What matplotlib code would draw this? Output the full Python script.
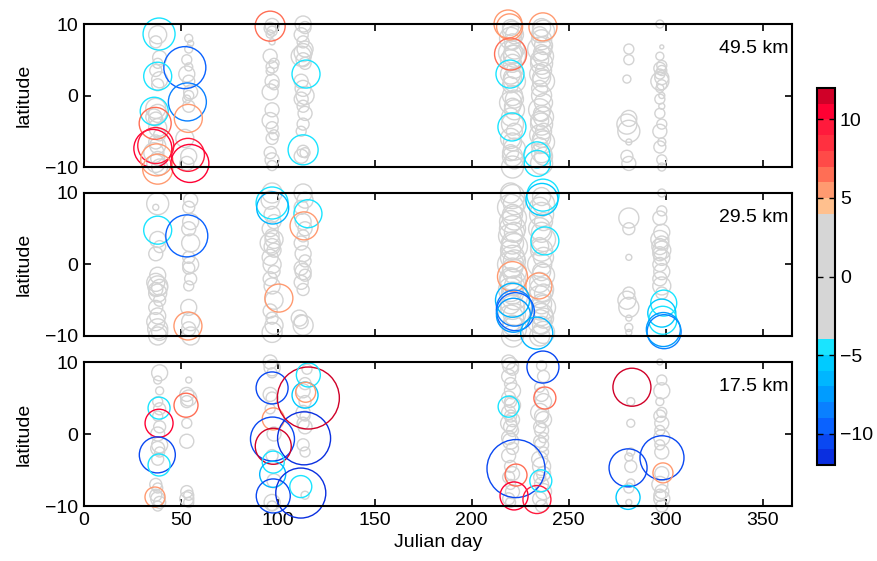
import matplotlib
matplotlib.use("Agg")
import matplotlib.pyplot as plt
import numpy as np
from matplotlib.colors import ListedColormap, BoundaryNorm

plt.rcParams['font.family'] = ['Liberation Sans', 'DejaVu Sans']
plt.rcParams['font.size'] = 14

# ---- data -----------------------------------------------------------------
altitudes = ['49.5 km', '29.5 km', '17.5 km']

# gray (small anomaly) circles: day, latitude, diameter (px)
p1_gray_day = [38, 37, 39, 38, 37, 39, 38, 37, 38, 36, 37, 38, 39, 37, 38, 36, 38, 37, 39,
               54, 55, 54, 53, 54, 53, 54, 55, 54, 53, 54, 52, 54, 53,
               97, 96, 97, 96, 97, 96, 98, 97, 96, 97, 98, 96, 97, 96, 97, 98, 97, 96, 97, 97,
               113, 114, 112, 113, 114, 113, 112, 113, 114, 112, 113, 114, 112, 113, 114, 113, 112, 113, 114, 112,
               220, 221, 222, 220, 221, 222, 220, 221, 222, 220, 221, 222, 220, 221, 222, 220, 221, 222,
               220, 221, 222, 220, 221, 222, 220, 221, 222, 220, 221, 222, 221,
               236, 237, 235, 236, 237, 235, 236, 237, 235, 236, 237, 235, 236, 237, 235, 236, 237, 235,
               236, 237, 235, 236, 237, 235, 236, 237, 235, 236, 237, 236,
               281, 281, 280, 281, 280, 281, 281, 280, 281,
               297, 298, 297, 298, 297, 298, 297, 298, 297, 298, 297, 298, 297, 298, 297, 298, 297,
               298, 297, 298, 298]
p1_gray_lat = [8.5, 7.5, 5.3, 4.5, 3.5, 2.2, 1.5, -1.8, -2.5, -3.0, -3.3, -4.5, -5.5, -6.5, -7.0, -8.0, -8.8, -9.5, -10.0,
               8.0, 7.3, 6.5, 5.0, 4.0, 3.0, 2.0, 0.5, 0.0, -0.5, -1.5, -6.0, -8.5, -9.5,
               9.8, 9.4, 9.0, 8.6, 7.5, 5.5, 4.5, 4.0, 3.4, 2.0, 1.5, 0.5, -2.0, -3.5, -4.5, -5.5, -6.0, -8.0, -9.0, -9.8,
               10.0, 9.5, 8.5, 7.5, 6.5, 6.0, 5.5, 5.0, 4.5, 2.0, 1.0, 0.0, -0.5, -1.5, -2.5, -4.0, -5.0, -7.8, -8.0, -8.5,
               9.5, 9.0, 8.5, 8.0, 7.5, 6.5, 6.0, 5.8, 5.5, 5.0, 4.5, 3.5, 3.0, 2.5, 2.0, 1.5, 0.0, -0.5,
               -1.0, -1.5, -2.0, -3.0, -4.0, -5.0, -6.0, -6.5, -7.5, -8.0, -8.5, -9.0, -10.0,
               9.5, 9.0, 8.5, 7.8, 7.0, 6.5, 6.0, 5.5, 5.0, 4.5, 3.5, 3.0, 2.5, 2.0, 1.0, 0.0, -1.0, -2.0,
               -2.5, -3.0, -3.5, -4.0, -5.0, -5.5, -6.0, -6.5, -7.0, -8.0, -8.5, -9.5,
               6.5, 5.0, 2.3, -3.2, -4.0, -5.0, -6.5, -8.5, -9.5,
               10.0, 6.8, 5.5, 4.2, 3.8, 3.5, 3.0, 2.5, 2.0, 1.5, 1.0, 0.0, -0.5, -1.5, -2.5, -4.0, -5.0,
               -6.5, -7.2, -9.0, -10.0]
p1_gray_size = [18, 12, 14, 10, 12, 16, 12, 20, 18, 16, 14, 18, 12, 14, 16, 20, 14, 18, 16,
                8, 6, 8, 10, 8, 16, 12, 14, 10, 8, 12, 18, 16, 14,
                14, 12, 10, 8, 6, 14, 10, 12, 8, 14, 10, 16, 14, 16, 12, 10, 12, 12, 14, 10,
                16, 12, 14, 12, 16, 18, 20, 14, 12, 14, 16, 18, 14, 12, 14, 12, 10, 12, 10, 14,
                16, 20, 18, 22, 16, 20, 24, 18, 22, 20, 18, 16, 20, 18, 22, 16, 20, 18,
                22, 16, 20, 18, 22, 16, 20, 18, 22, 16, 20, 18, 22,
                18, 22, 16, 20, 18, 24, 16, 20, 18, 22, 16, 20, 18, 22, 16, 20, 18, 22,
                16, 20, 18, 22, 16, 20, 18, 22, 16, 20, 18, 22,
                10, 10, 8, 16, 20, 22, 6, 12, 14,
                8, 4, 8, 10, 12, 10, 10, 14, 18, 10, 8, 6, 10, 6, 10, 10, 14,
                8, 12, 10, 8]

p2_gray_day = [38, 37, 38, 39, 37, 38, 37, 38, 39, 37, 38, 39, 37, 38, 37, 38, 39, 38,
               55, 54, 55, 54, 55, 54, 55, 54, 55, 54, 54, 55, 54, 55,
               97, 96, 97, 98, 96, 97, 98, 96, 97, 98, 96, 97, 98, 96, 97, 98, 96, 97, 98, 97,
               113, 114, 112, 113, 114, 113, 112, 113, 114, 112, 113, 114, 112, 113, 111, 112, 113,
               220, 221, 222, 220, 221, 222, 220, 221, 222, 220, 221, 222, 220, 221, 222, 220, 221, 222,
               220, 221, 222, 220, 221, 222, 220, 221, 222, 220, 221, 222, 221,
               236, 237, 235, 236, 237, 235, 236, 237, 235, 236, 237, 235, 236, 237, 235, 236, 237, 235,
               236, 237, 235, 236, 237, 235, 236, 237, 235,
               281, 281, 281, 281, 280, 281, 281, 281, 281,
               298, 298, 297, 298, 297, 298, 297, 298, 297, 298, 297, 298, 297, 298, 298]
p2_gray_lat = [8.5, 8.0, 3.5, 2.5, 1.5, -1.5, -2.5, -3.0, -3.2, -3.5, -4.0, -5.0, -6.0, -7.2, -8.0, -9.0, -9.5, -10.0,
               9.0, 8.0, 6.0, 5.0, 3.0, 1.0, 0.0, -0.5, -2.0, -3.0, -6.0, -8.0, -9.0, -10.0,
               10.0, 9.0, 7.0, 6.0, 5.0, 4.0, 3.5, 3.0, 2.5, 2.0, 1.0, 0.0, -1.0, -2.0, -3.0, -5.0, -6.5, -7.5, -8.5, -9.5,
               10.0, 9.0, 8.0, 6.0, 5.0, 4.0, 3.0, 1.5, 0.5, -0.5, -1.0, -1.5, -2.5, -3.5, -7.5, -8.0, -8.5,
               10.0, 9.5, 8.5, 8.0, 7.0, 6.5, 6.0, 5.0, 4.5, 4.0, 3.0, 2.5, 2.0, 1.0, 0.5, 0.0, -0.5, -1.0,
               -2.0, -2.5, -3.0, -3.5, -4.0, -4.5, -5.5, -6.0, -7.0, -7.5, -8.5, -9.0, -10.0,
               9.5, 8.5, 8.0, 7.0, 6.0, 5.0, 4.5, 3.5, 2.5, 2.0, 1.0, 0.0, -1.0, -1.5, -2.5, -3.5, -4.0, -4.5,
               -5.5, -6.0, -6.5, -7.0, -7.5, -8.0, -8.5, -9.5, -10.0,
               6.5, 5.0, 1.0, -4.0, -5.0, -6.0, -7.5, -8.8, -9.5,
               10.0, 7.5, 6.5, 4.5, 3.5, 3.0, 2.5, 2.0, 1.5, 1.0, 0.0, -1.0, -2.0, -3.0, -4.0]
p2_gray_size = [22, 6, 16, 12, 14, 16, 18, 20, 16, 14, 18, 12, 14, 16, 18, 20, 16, 18,
                14, 12, 16, 14, 18, 12, 16, 12, 12, 10, 16, 18, 14, 18,
                20, 18, 16, 14, 16, 14, 18, 20, 16, 14, 16, 18, 12, 14, 16, 18, 14, 12, 18, 20,
                18, 16, 14, 16, 14, 12, 14, 16, 12, 14, 16, 12, 14, 12, 16, 14, 20,
                20, 24, 22, 26, 20, 24, 22, 26, 20, 24, 22, 26, 20, 24, 22, 26, 20, 24,
                22, 26, 20, 24, 22, 26, 20, 24, 22, 26, 20, 24, 22,
                18, 22, 20, 24, 18, 22, 20, 24, 18, 22, 20, 24, 18, 22, 20, 24, 18, 22,
                20, 24, 18, 22, 20, 24, 18, 22, 20,
                20, 12, 6, 12, 18, 20, 6, 8, 6,
                8, 10, 14, 16, 18, 14, 16, 18, 14, 16, 14, 16, 14, 18, 12]

p3_gray_day = [39, 38, 39, 38, 39, 38, 39, 38, 39, 38, 39, 38, 37, 38, 37, 38, 39, 38,
               54, 53, 54, 53, 53, 53, 53, 54, 53, 54,
               96, 97, 97, 96, 97, 96, 98, 97, 98, 97, 97,
               115, 114, 113, 114, 113, 114, 113, 114, 113, 114, 114,
               219, 220, 221, 219, 220, 221, 219, 220, 221, 219, 220, 221, 219, 220, 221, 219, 220, 221,
               219, 220, 221, 219, 220, 221, 219, 220,
               236, 237, 235, 236, 237, 235, 236, 237, 235, 236, 237, 235, 236, 237, 235, 236, 237, 235,
               236, 237, 235, 236,
               282, 282, 282, 281, 282, 282, 281, 281,
               297, 298, 298, 297, 298, 297, 298, 297, 298, 297, 298, 298, 297, 298, 297, 298, 298]
p3_gray_lat = [8.5, 7.5, 6.0, 4.5, 3.5, 2.5, 1.0, 0.0, -1.5, -2.0, -2.5, -3.5, -7.0, -7.5, -8.5, -9.0, -9.5, -10.0,
               7.5, 5.5, 5.0, 4.5, 1.5, -1.0, -8.0, -8.5, -9.0, -9.5,
               10.0, 9.2, 8.5, 5.5, 5.0, 3.5, 0.0, -3.0, -6.5, -9.5, -10.0,
               9.0, 7.0, 6.0, 4.5, 3.0, 2.5, 1.5, 1.0, -1.5, -2.5, -8.5,
               10.0, 9.5, 9.0, 8.0, 7.0, 6.0, 5.0, 4.5, 4.0, 3.0, 2.5, 2.0, 1.5, 1.0, 0.5, -0.5, -1.0, -2.0,
               -3.0, -4.5, -5.5, -6.0, -7.0, -8.0, -9.0, -9.5,
               9.5, 8.0, 6.5, 5.5, 4.5, 3.0, 2.5, 2.0, 1.0, 0.5, -0.5, -1.0, -1.5, -2.5, -3.5, -4.5, -5.5, -6.0,
               -7.0, -8.0, -9.0, -10.0,
               4.5, 1.5, -2.5, -3.2, -4.5, -6.8, -7.5, -9.5,
               10.0, 7.5, 6.0, 4.5, 3.0, 2.5, 1.5, 0.5, -0.5, -1.5, -2.5, -5.5, -7.0, -8.0, -8.5, -9.0, -10.0]
p3_gray_size = [16, 8, 8, 10, 12, 10, 12, 14, 16, 14, 10, 12, 12, 10, 12, 14, 12, 10,
                6, 14, 16, 12, 10, 14, 12, 10, 14, 10,
                14, 16, 10, 14, 12, 10, 14, 12, 14, 16, 10,
                10, 12, 14, 12, 14, 10, 12, 14, 12, 10, 8,
                14, 16, 12, 14, 12, 16, 14, 12, 16, 14, 12, 14, 16, 14, 12, 14, 16, 12,
                14, 12, 14, 12, 10, 14, 12, 10,
                10, 12, 10, 14, 16, 18, 14, 16, 12, 14, 10, 12, 14, 10, 16, 18, 14, 12,
                14, 16, 14, 12,
                8, 8, 8, 8, 12, 8, 10, 6,
                6, 10, 16, 8, 10, 12, 14, 10, 16, 10, 14, 14, 16, 14, 12, 16, 12]

# coloured (large anomaly) circles: day, latitude, anomaly, diameter (px)
p1_day = [38.7, 52.0, 38.0, 53.3, 36.2, 53.8, 36.7, 35.5, 37.0, 37.5, 38.0, 53.6, 54.6,
          96.0, 114.5, 113.0, 218.7, 219.5, 236.7, 220.0, 219.7, 220.7, 233.6, 233.8]
p1_lat = [8.6, 3.9, 2.7, -0.9, -2.2, -3.2, -3.9, -7.4, -7.0, -9.0, -10.3, -8.3, -9.5,
          9.7, 3.0, -7.6, 10.0, 9.6, 9.6, 5.8, 3.0, -4.4, -8.3, -9.5]
p1_val = [-4.5, -10.0, -4.5, -9.0, -4.5, 5.5, 6.5, 10.0, 9.0, 5.5, 5.0, 9.5, 10.5,
          6.5, -4.5, -4.5, 5.5, 5.0, 5.0, 6.5, -4.5, -4.5, -4.5, -5.0]
p1_size = [32, 42, 28, 38, 28, 28, 32, 38, 36, 32, 30, 33, 38,
           30, 28, 30, 28, 26, 28, 32, 28, 28, 26, 26]

p2_day = [38.0, 53.0, 53.6, 97.0, 97.3, 115.5, 113.5, 100.5, 236.7, 236.2, 237.7, 221.0, 234.6,
          221.0, 222.0, 222.5, 221.5, 233.5, 299.0, 298.0, 298.5, 299.2, 298.8]
p2_lat = [4.8, 4.0, -8.6, 8.6, 7.9, 7.1, 5.4, -4.7, 9.7, 9.1, 3.3, -1.7, -3.0,
          -5.0, -6.1, -6.6, -7.1, -9.6, -5.4, -6.8, -7.8, -9.4, -9.1]
p2_val = [-4.5, -9.5, 5.0, -4.5, -6.5, -4.5, 5.0, 5.0, -4.5, -6.0, -5.0, 5.0, 5.0,
          -6.5, -8.5, -9.5, -7.5, -6.5, -4.5, -5.5, -5.0, -8.5, -7.5]
p2_size = [28, 42, 28, 32, 32, 28, 28, 28, 32, 32, 28, 30, 26,
           34, 36, 38, 34, 32, 26, 28, 28, 34, 34]

p3_day = [38.7, 38.7, 37.8, 38.7, 36.6, 52.6, 97.0, 97.6, 97.2, 97.6, 113.5, 115.7, 115.7,
          114.0, 114.3, 97.6, 97.3, 97.6, 111.8, 111.8,
          236.7, 237.7, 219.0, 222.8, 222.8, 221.8, 233.6, 235.6, 282.6, 280.6, 280.6, 298.1, 298.6]
p3_lat = [3.6, 1.5, -2.9, -4.3, -8.75, 4.0, 6.4, 2.1, -0.7, -1.7, -0.6, 5.0, 8.2,
          5.4, 5.8, -3.9, -5.6, -8.6, -8.2, -7.3,
          9.3, 5.0, 3.8, -4.8, -5.7, -8.6, -9.1, -6.5, 6.5, -4.7, -8.8, -3.3, -5.4]
p3_val = [-4.5, 10.0, -11.0, -4.5, 5.0, 6.5, -10.5, 5.0, -11.0, 11.0, -11.5, 11.8, -4.5,
          -5.5, 5.0, -4.5, -6.5, -10.5, -11.5, -4.5,
          -10.5, 6.5, -4.5, -11.0, 6.0, 10.0, 9.5, -4.5, 11.5, -11.0, -6.0, -11.0, 5.0]
p3_size = [22, 28, 36, 22, 20, 24, 32, 22, 44, 36, 53, 62, 24,
           26, 20, 22, 26, 34, 50, 22,
           32, 22, 21, 58, 22, 28, 28, 22, 38, 38, 24, 44, 20]

cbar_ticks = [-10, -5, 0, 5, 10]
x_ticks = [0, 50, 100, 150, 200, 250, 300, 350]
y_ticks = [-10, 0, 10]

# ---- colour map: 1-unit bins, grey for |anomaly| < 4 ------------------------
blues = ['#0a2fe0', '#0a48f2', '#0a62ff', '#0a80ff', '#009cff', '#00b6ff', '#00cbff', '#1ae4ff']
greys = ['#d6d6d6'] * 8
reds = ['#ffc08e', '#ff9a70', '#ff6e55', '#ff4a48', '#ff3040', '#ff1a3c', '#ff0033', '#d00028']
cmap = ListedColormap(blues + greys + reds)
norm = BoundaryNorm(np.arange(-12, 13, 1), cmap.N)

gray_sets = [(p1_gray_day, p1_gray_lat, p1_gray_size),
             (p2_gray_day, p2_gray_lat, p2_gray_size),
             (p3_gray_day, p3_gray_lat, p3_gray_size)]
col_sets = [(p1_day, p1_lat, p1_val, p1_size),
            (p2_day, p2_lat, p2_val, p2_size),
            (p3_day, p3_lat, p3_val, p3_size)]

fig = plt.figure(figsize=(8.78, 5.61), dpi=100)
bottoms = [0.7023, 0.4011, 0.0980]
heights = [0.2549, 0.2549, 0.2567]


def px_to_s(d):
    # diameter in pixels -> scatter size in points^2
    return (np.asarray(d, dtype=float) * 72.0 / 100.0) ** 2


for i in range(3):
    ax = fig.add_axes([0.0957, bottoms[i], 0.806, heights[i]])
    gd, gl, gs = gray_sets[i]
    ax.scatter(gd, gl, s=px_to_s(gs), facecolors='none', edgecolors='#d3d3d3',
               linewidths=1.0, clip_on=False, zorder=2)
    d, l, v, s = col_sets[i]
    cols = cmap(norm(np.array(v)))
    ax.scatter(d, l, s=px_to_s(s), facecolors='none', edgecolors=cols,
               linewidths=1.0, clip_on=False, zorder=3)

    ax.set_xlim(0, 365)
    ax.set_ylim(-10, 10)
    ax.set_xticks(x_ticks)
    ax.set_yticks(y_ticks)
    ax.set_yticklabels(['\u221210', '0', '10'])
    ax.tick_params(direction='in', top=True, right=True, length=5, width=1.2,
                   labelsize=14, pad=4)
    for sp in ax.spines.values():
        sp.set_linewidth(1.5)
        sp.set_zorder(4)
    ax.set_ylabel('latitude', fontsize=14, labelpad=9)
    ax.text(0.995, 0.83, altitudes[i], transform=ax.transAxes, ha='right', va='center',
            fontsize=14, zorder=5)
    if i < 2:
        ax.set_xticklabels([])
    else:
        ax.set_xlabel('Julian day', fontsize=14, labelpad=4)

cax = fig.add_axes([0.9305, 0.1711, 0.0205, 0.672])
sm = plt.cm.ScalarMappable(cmap=cmap, norm=norm)
cb = fig.colorbar(sm, cax=cax, ticks=cbar_ticks)
cb.ax.set_yticklabels(['\u221210', '\u22125', '0', '5', '10'])
cb.ax.tick_params(direction='in', left=True, right=True, length=4, width=1.0, labelsize=14)
cb.outline.set_linewidth(1.5)
cb.ax.minorticks_off()

fig.savefig('out.png', dpi=100)
